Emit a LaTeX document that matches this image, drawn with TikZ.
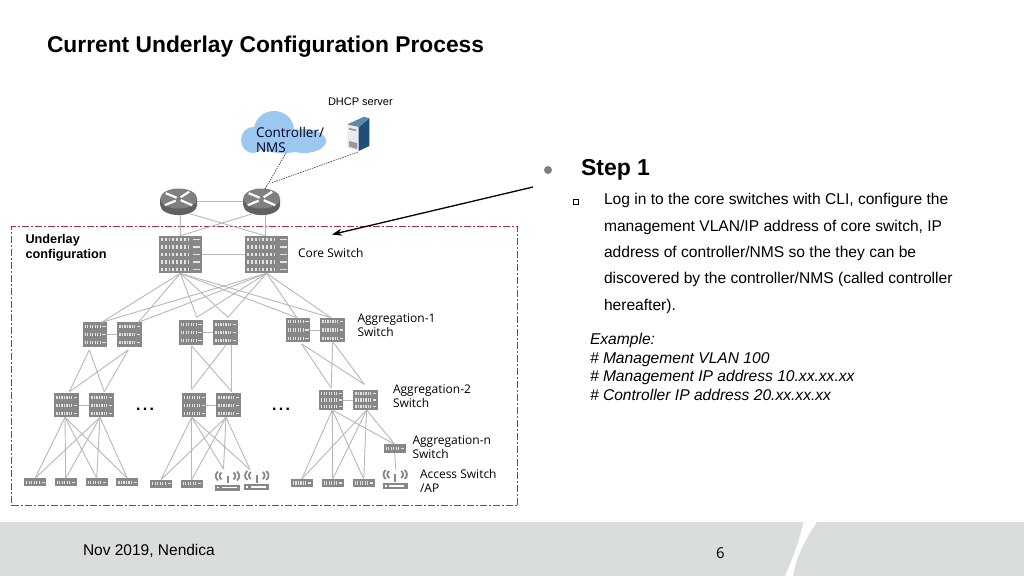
\documentclass[tikz,border=0pt]{standalone}
\usepackage{fontspec}
\setmainfont{Liberation Sans}
\newfontfamily\labelfont{Open Sans}
\usetikzlibrary{arrows.meta,calc}
\definecolor{swgray}{HTML}{878787}
\definecolor{swdot}{HTML}{E2E2E2}
\definecolor{linkgray}{HTML}{B8B8B8}
\definecolor{dashred}{HTML}{B02A50}
\definecolor{band}{HTML}{D9DDDE}
\definecolor{cloudblue}{HTML}{9CC8F0}
\definecolor{serverdark}{HTML}{1F4E79}
\definecolor{servertop}{HTML}{5F88AE}
\newcommand{\fs}[2]{\fontsize{#1}{#2}\selectfont}
\newcommand{\swrows}[3]{%
  \begin{scope}[shift={(path picture bounding box.center)}]
  \pgfmathsetmacro{\pp}{#1>30 ? 1.9 : 1.25}
  \foreach \i in {1,...,#3}{
    \pgfmathsetmacro{\yy}{-#2/2+(\i-0.5)*#2/#3}
    \pgfmathsetmacro{\ww}{min(#2/#3*0.55,3.2)}
    \draw[swdot,line width=\ww pt,dash pattern=on \pp pt off \pp pt]
      ({-#1/2+2},\yy) -- ({#1*0.2},\yy);
    \fill[swdot] ({#1/2-#1*0.2},{\yy-0.6}) rectangle ({#1/2-1.5},{\yy+0.6});
  }
  \end{scope}}
\newcommand{\rbladew}[4]{\draw[white,line width=2.2pt] (#1,#2) -- (#3,#4);}
\tikzset{
  x=1pt,y=-1pt,
  sw/.style n args={3}{rectangle,inner sep=0pt,outer sep=0pt,fill=swgray,
    minimum width=#1pt,minimum height=#2pt,path picture={\swrows{#1}{#2}{#3}}},
  routernode/.style={rectangle,inner sep=0pt,outer sep=0pt,minimum width=37pt,minimum height=27pt,
    path picture={
      \begin{scope}[shift={(path picture bounding box.center)}]
      \fill[black!62] (-18.5,-3.2) -- (-18.5,3.4) arc[start angle=180,end angle=360,x radius=18.5,y radius=-10] -- (18.5,-3.2) -- cycle;
      \fill[black!50] (0,-3.2) ellipse[x radius=18.5,y radius=10];
      \rbladew{-13}{-8.5}{-2}{-4}\rbladew{2}{-1.5}{13.5}{3.5}
      \rbladew{2}{-4.5}{10.5}{-10}\rbladew{-14}{3.5}{-3}{-1}
      \end{scope}}},
  apnode/.style={rectangle,inner sep=0pt,outer sep=0pt,minimum width=26pt,minimum height=21pt,
    path picture={
      \begin{scope}[shift={(path picture bounding box.center)}]
      \fill[swgray] (-12.5,4) rectangle (12.5,10);
      \fill[white] (-6,6.2) rectangle (9,7.8);
      \fill[white] (-10.5,6.2) rectangle (-8.5,7.8);
      \draw[swgray,line width=2pt] (0,-5) -- (0,2.5);
      \draw[swgray,line width=1.8pt] (-6,-8) .. controls (-8.5,-6) and (-8.5,-3) .. (-6,-1);
      \draw[swgray,line width=1.8pt] (-9.5,-9) .. controls (-12.5,-6) and (-12.5,-3) .. (-9.5,0);
      \draw[swgray,line width=1.8pt] (6,-8) .. controls (8.5,-6) and (8.5,-3) .. (6,-1);
      \draw[swgray,line width=1.8pt] (9.5,-9) .. controls (12.5,-6) and (12.5,-3) .. (9.5,0);
      \end{scope}}},
  cloudnode/.style={rectangle,inner sep=0pt,outer sep=0pt,minimum width=85pt,minimum height=42pt,
    path picture={
      \begin{scope}[shift={(path picture bounding box.center)}]
      \fill[cloudblue] (-9.5,-2) ellipse[x radius=20,y radius=19];
      \fill[cloudblue] (-30.5,8) ellipse[x radius=12,y radius=13];
      \fill[cloudblue] (20.5,9) ellipse[x radius=22,y radius=12];
      \fill[cloudblue] (-0.5,11) ellipse[x radius=28,y radius=10];
      \end{scope}}},
  servernode/.style={rectangle,inner sep=0pt,outer sep=0pt,minimum width=23pt,minimum height=36pt,
    path picture={
      \begin{scope}[shift={(path picture bounding box.center)}]
      \fill[black!8] (-10.7,-9.7) -- (0.7,-7) -- (0.7,17) -- (-10.7,14) -- cycle;
      \fill[black!40] (-9,7) -- (-1,9) -- (-1,15) -- (-9,12.5) -- cycle;
      \fill[black!45] (-9,-6) -- (-2,-4.5) -- (-2,-3) -- (-9,-4.5) -- cycle;
      \fill[serverdark] (0.7,-7) -- (11.3,-15.7) -- (11.3,12) -- (0.7,17) -- cycle;
      \fill[servertop] (-10.7,-9.7) -- (6,-17.3) -- (11.3,-15.7) -- (0.7,-7) -- cycle;
      \end{scope}}},
  link/.style={draw=linkgray,line width=0.9pt},
  dotlink/.style={draw=black!80,line width=0.6pt,dash pattern=on 1.5pt off 1pt},
  lab/.style={anchor=west,inner sep=0pt,outer sep=0pt,align=left,font={\labelfont\fs{12}{14}}},
  txt/.style={anchor=west,inner sep=0pt,outer sep=0pt,align=left},
  region/.style={draw=dashred,line width=1.4pt,dash pattern=on 7pt off 2pt on 2pt off 2pt},
}
\begin{document}
\begin{tikzpicture}[x=1pt,y=-1pt]
\useasboundingbox (0,0) rectangle (1024,576);
\fill[white] (0,0) rectangle (1024,576);
% footer band
\fill[band] (0,522) rectangle (1024,576);
\fill[white] (803.5,522) .. controls (801,535) and (794,556) .. (785,576) -- (793,576) .. controls (796,556) and (807,536) .. (817,522) -- cycle;

\node[txt,font={\bfseries\fs{22.8}{26}}] (title) at (47,47) {Current Underlay Configuration Process};
\node[txt,font={\fs{11}{13}}] (dhcp) at (328,102) {DHCP server};

% region
\node[region,rectangle,inner sep=0pt,minimum width=506pt,minimum height=279pt] (regionbox) at (264.7,366.2) {};

% top devices
\node[cloudnode] (cloud) at (283.5,132) {};
\node[servernode] (server) at (358,134) {};
\node[routernode] (r1) at (178.7,201.7) {};
\node[routernode] (r2) at (261.7,201.7) {};
\node[sw={43}{37.6}{5}] (c1) at (180.4,254.5) {};
\node[sw={43}{37.6}{5}] (c2) at (266.6,254.5) {};

% aggregation 1
\node[sw={24.4}{24.6}{3}] (a1) at (94.8,334.6) {};
\node[sw={24.4}{24.6}{3}] (a2) at (129.5,334.6) {};
\node[sw={24.4}{24.4}{3}] (a3) at (190.8,332.5) {};
\node[sw={24.4}{24.4}{3}] (a4) at (225.5,332.5) {};
\node[sw={24.6}{24.6}{3}] (a5) at (298,330) {};
\node[sw={24.6}{24.6}{3}] (a6) at (332.6,330) {};
% aggregation 2
\node[sw={24.6}{24}{3}] (b1) at (66.6,405.3) {};
\node[sw={24.4}{24}{3}] (b2) at (101.5,405.3) {};
\node[sw={24.4}{24}{3}] (b3) at (194.2,405.3) {};
\node[sw={24.4}{24}{3}] (b4) at (228.5,405.3) {};
\node[sw={24.4}{20}{3}] (b5) at (331.2,400) {};
\node[sw={24.4}{20}{3}] (b6) at (365.5,400) {};
% aggregation n
\node[sw={22}{9}{1}] (n1) at (394.7,448.8) {};
% access
\node[sw={22}{8}{1}] (e1) at (35,482.3) {};
\node[sw={22}{8}{1}] (e2) at (65.7,482.3) {};
\node[sw={22}{8}{1}] (e3) at (96.7,482.3) {};
\node[sw={22}{8}{1}] (e4) at (127.3,482.3) {};
\node[sw={22}{8}{1}] (e5) at (161,483.7) {};
\node[sw={22}{8}{1}] (e6) at (191.7,483.7) {};
\node[apnode] (ap1) at (227.5,480.5) {};
\node[apnode] (ap2) at (256.8,480) {};
\node[sw={22}{8}{1}] (e7) at (301.8,483) {};
\node[sw={22}{8}{1}] (e8) at (332.7,483) {};
\node[sw={22}{8}{1}] (e9) at (363.7,483) {};
\node[apnode] (ap3) at (395.2,479) {};

% dotted links
\draw[dotlink] ([xshift=2.5pt]cloud.south) -- ([xshift=2.6pt,yshift=-2pt]r2.north);
\draw[dotlink] (server.south) -- ([xshift=9pt,yshift=5pt]r2.north);

% router/core links
\draw[link] (r1.east) -- (r2.west);
\draw[link] ([xshift=1.6pt]r1.south) -- ([yshift=0pt]c1.north);
\draw[link] ([xshift=3.3pt]r2.south) -- ([xshift=-1.6pt]c2.north);
\draw[link] ([xshift=11pt,yshift=1.5pt]r1.south) -- ([xshift=-1.6pt]c2.north);
\draw[link] ([xshift=-9pt,yshift=1.5pt]r2.south) -- (c1.north);
\draw[link] (c1.east) -- (c2.west);

% core to aggregation 1
\foreach \s in {c1,c2}{
  \draw[link] (\s.south) -- ([xshift=6.9pt]a1.north);
  \draw[link] (\s.south) -- ([xshift=8.8pt]a2.north);
  \draw[link] (\s.south) -- ([xshift=5.9pt,yshift=3pt]a3.north);
  \draw[link] (\s.south) -- ([xshift=2.5pt,yshift=3pt]a4.north);
  \draw[link] (\s.south) -- ([xshift=-1pt]a5.north);
  \draw[link] (\s.south) -- ([xshift=-1.6pt]a6.north);
}
% pair links
\foreach \p/\q in {a1/a2,a3/a4,a5/a6,b1/b2,b3/b4,b5/b6}{
  \draw[link] (\p.east) -- (\q.west);
}
% aggregation 1 to 2
\foreach \s/\dx in {a1/-5.5,a2/-1.2}{
  \draw[link] ([xshift=\dx pt,yshift=-3pt]\s.south) -- ([xshift=2.7pt,yshift=1.5pt]b1.north);
  \draw[link] ([xshift=\dx pt,yshift=-3pt]\s.south) -- ([xshift=2.8pt,yshift=1.5pt]b2.north);
}
\draw[link] ([xshift=.9pt,yshift=-1.3pt]a3.south) -- ([xshift=-2.5pt,yshift=4pt]b3.north);
\draw[link] ([xshift=.9pt,yshift=-1.3pt]a3.south) -- ([xshift=3.2pt,yshift=1.7pt]b4.north);
\draw[link] ([xshift=.5pt,yshift=-.3pt]a4.south) -- ([xshift=-2.5pt,yshift=4pt]b3.north);
\draw[link] ([xshift=6.2pt,yshift=-.3pt]a4.south) -- ([xshift=3.2pt,yshift=1.7pt]b4.north);
\draw[link] ([xshift=3.7pt,yshift=-1.7pt]a5.south) -- ([yshift=2pt]b5.north);
\draw[link] ([xshift=3.7pt,yshift=-1.7pt]a5.south) -- ([xshift=-1.2pt,yshift=5.7pt]b6.north);
\draw[link] (a6.south) -- ([yshift=2pt]b5.north);
\draw[link] ([xshift=.7pt]a6.south) -- ([xshift=-1.2pt,yshift=5.7pt]b6.north);
% aggregation 2 to access
\foreach \s/\dx in {b1/-1.6,b2/-1.5}{
  \foreach \t in {e1,e2,e3,e4}{
    \draw[link] ([xshift=\dx pt]\s.south) -- (\t.north);
  }
}
\foreach \s/\dx in {b3/-2.5,b4/-2.5}{
  \draw[link] ([xshift=\dx pt]\s.south) -- (e5.north);
  \draw[link] ([xshift=\dx pt]\s.south) -- (e6.north);
  \draw[link] ([xshift=\dx pt]\s.south) -- ([xshift=-4pt,yshift=1pt]ap1.north);
  \draw[link] ([xshift=\dx pt]\s.south) -- ([xshift=-6.8pt,yshift=0pt]ap2.north);
}
\foreach \s in {b5,b6}{
  \draw[link] ([xshift=1.1pt]\s.south) -- (e7.north);
  \draw[link] ([xshift=1.1pt]\s.south) -- (e8.north);
  \draw[link] ([xshift=1.1pt]\s.south) -- (e9.north);
  \draw[link] ([xshift=1.1pt]\s.south) -- (n1.north);
}
\draw[link] (n1.south) -- ([xshift=.5pt,yshift=-1pt]ap3.north);

% diagram labels
\node[lab,text=black!85!blue,font={\labelfont\fs{13.5}{15}}] (cloudlab) at (256,139.5) {Controller/\\NMS};
\node[txt,font={\bfseries\fs{12.7}{15}}] (underlay) at (25.5,248) {Underlay\\configuration};
\node[lab] (corelab) at (298,253) {Core Switch};
\node[lab] (a1lab) at (357.5,325.5) {Aggregation-1\\Switch};
\node[lab] (a2lab) at (393,396) {Aggregation-2\\Switch};
\node[lab] (nlab) at (412.5,447.5) {Aggregation-n\\Switch};
\node[lab] (aclab) at (420,481) {Access Switch\\/AP};
\node[txt,font={\bfseries\fs{16}{18}}] (dots1) at (136,409) {.\kern2.4pt.\kern2.4pt.};
\node[txt,font={\bfseries\fs{16}{18}}] (dots2) at (272,409) {.\kern2.4pt.\kern2.4pt.};

% arrow
\coordinate (arrowstart) at (533,187);
\coordinate (arrowend) at (332,234.5);
\draw[black,line width=1.3pt,-{Stealth[length=10pt,width=7pt]}] (arrowstart) -- (arrowend);

% right text
\node[circle,fill=black!50,inner sep=0pt,minimum size=8pt] (bullet) at (548,170) {};
\node[txt,font={\bfseries\fs{23}{27}}] (step) at (581,170) {Step 1};
\node[rectangle,draw=black,line width=1pt,inner sep=0pt,minimum size=5pt] (sq) at (576,202) {};
\node[txt,font={\fs{15.6}{26.4}}] (body) at (604,253.5) {Log in to the core switches with CLI, configure the\\management VLAN/IP address of core switch, IP\\address of controller/NMS so the they can be\\discovered by the controller/NMS (called controller\\hereafter).};
\node[txt,font={\itshape\fs{15.6}{18.7}}] (example) at (590,367) {Example:\\\# Management VLAN 100\\\# Management IP address 10.xx.xx.xx\\\# Controller IP address 20.xx.xx.xx};

% footer text
\node[txt,font={\fs{15.5}{17}}] (date) at (83,550.5) {Nov 2019, Nendica};
\node[txt,font={\labelfont\fs{15}{17}}] (page) at (716,553) {6};
\end{tikzpicture}
\end{document}
